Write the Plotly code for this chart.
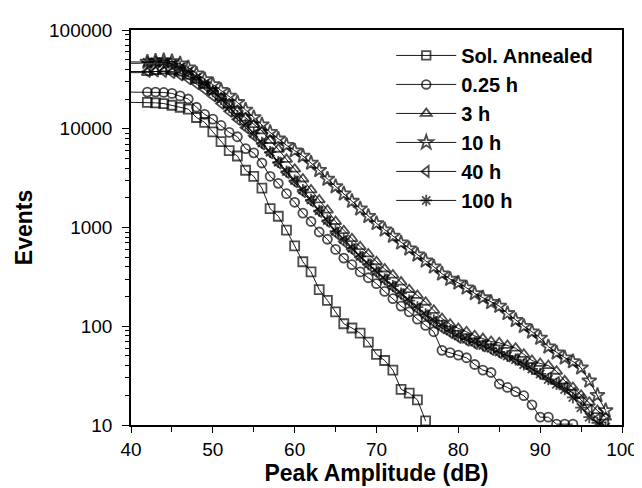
import plotly.graph_objects as go

# Peak amplitude (dB)
amp_sa = list(range(40, 77))
amp_025 = list(range(40, 95))
amp_long = list(range(40, 99))

sol_annealed = [18500, 18500, 18500, 18300, 18000, 17300, 16500, 15800, 13000, 11600, 9300, 7400,
                6000, 5300, 3800, 3300, 2500, 1550, 1300, 940, 650, 450, 355, 235, 183, 140,
                106, 96, 85, 69, 52, 45, 36, 23, 21, 18, 11]

h025 = [23500, 23500, 23500, 23500, 23300, 22800, 21500, 20000, 16500, 14000, 12500, 10800,
        9200, 8300, 6300, 5700, 4500, 3300, 2800, 2200, 1800, 1400, 1150, 900, 760, 600,
        490, 420, 355, 310, 270, 225, 190, 160, 140, 118, 102, 88, 57, 54, 51, 48, 41, 36,
        34, 26, 24, 21.7, 19.8, 16, 12, 12, 10.2, 10.2, 10.2]

h3 = [37000, 37000, 37000, 38000, 38500, 38000, 36500, 34000, 31000, 27500, 24000, 20500,
      17500, 15000, 12800, 11000, 9500, 7600, 6200, 4900, 3900, 3100, 2400, 1900, 1500,
      1150, 930, 770, 640, 540, 450, 380, 330, 280, 235, 205, 175, 145, 120, 105, 95, 88,
      80, 75, 70, 68, 64, 60, 52, 45, 42, 40, 35, 28, 24, 20, 17, 14, 12]

h10 = [47500, 47500, 47500, 48500, 49000, 48000, 45500, 41500, 36000, 31500, 28000, 24500,
       21500, 18500, 15500, 13000, 11000, 9200, 7900, 6800, 6000, 5300, 4500, 3800, 3100,
       2600, 2200, 1850, 1550, 1300, 1100, 950, 820, 700, 610, 530, 460, 400, 340, 300,
       275, 245, 215, 195, 175, 160, 135, 115, 100, 88, 76, 62, 54, 48, 44, 38, 28, 20, 14]

h40 = [38000, 38000, 38000, 38500, 38000, 37000, 35000, 32000, 28500, 25000, 21500, 18000,
       15000, 12500, 10300, 8500, 7000, 5700, 4500, 3600, 2900, 2300, 1850, 1450, 1150,
       880, 720, 600, 500, 420, 350, 295, 250, 210, 178, 150, 128, 110, 96, 86, 77, 72,
       67, 63, 58, 54, 50, 46, 42, 37, 33, 30, 27, 24, 21, 18, 14, 11.5, 10.5]

h100 = [46000, 46000, 47000, 47500, 47000, 45500, 42000, 38000, 33000, 28500, 24000, 20000,
        16500, 13500, 11000, 9000, 7200, 5800, 4600, 3700, 3000, 2400, 1900, 1480, 1180,
        920, 760, 620, 510, 425, 360, 300, 255, 215, 182, 156, 132, 115, 101, 90, 80, 74,
        69, 64, 60, 55, 50, 46, 41, 37, 33, 29, 26, 23, 19, 15, 12, 10.5, 9.5]

series = [
    ("Sol. Annealed", amp_sa, sol_annealed, "square-open", 9),
    ("0.25 h", amp_025, h025, "circle-open", 9),
    ("3 h", amp_long, h3, "triangle-up-open", 10),
    ("10 h", amp_long, h10, "star-open", 11),
    ("40 h", amp_long, h40, "triangle-left-open", 10),
    ("100 h", amp_long, h100, "asterisk-open", 10),
]

fig = go.Figure()
for name, xs, ys, sym, msize in series:
    sizes = [0 if x < 42 else msize for x in xs]
    fig.add_trace(go.Scatter(
        x=xs, y=ys, name=name, mode="lines+markers",
        line=dict(color="black", width=0.9),
        marker=dict(symbol=sym, size=sizes, color="black", line=dict(color="black", width=1.8)),
    ))

font = "Liberation Sans, Arial, sans-serif"
fig.update_layout(
    width=642, height=488,
    margin=dict(l=123, r=23, t=21, b=71),
    paper_bgcolor="white", plot_bgcolor="white",
    font=dict(family=font, color="black"),
    showlegend=True,
    legend=dict(x=0.53, y=0.985, xanchor="left", yanchor="top",
                font=dict(family=font, size=20, color="black", weight="bold"),
                itemwidth=60, bgcolor="rgba(0,0,0,0)", tracegroupgap=0),
    xaxis=dict(range=[40, 100], tickvals=[40, 50, 60, 70, 80, 90, 100],
               ticks="outside", ticklen=6, tickwidth=1, tickcolor="black",
               minor=dict(tickvals=[45, 55, 65, 75, 85, 95], ticks="outside", ticklen=5, tickcolor="black"),
               showline=True, linecolor="black", linewidth=1.5, mirror=True,
               showgrid=False, zeroline=False,
               tickfont=dict(size=19, family=font),
               title=dict(text="Peak Amplitude (dB)", font=dict(size=23, family=font, weight="bold"), standoff=3)),
    yaxis=dict(type="log", range=[1, 5],
               tickvals=[10, 100, 1000, 10000, 100000],
               ticktext=["10", "100", "1000", "10000", "100000"],
               ticks="outside", ticklen=7, tickwidth=1, tickcolor="black",
               ticklabelstandoff=6,
               minor=dict(ticks="outside", ticklen=4, tickcolor="black", dtick="D1"),
               showline=True, linecolor="black", linewidth=1.5, mirror=True,
               showgrid=False, zeroline=False,
               tickfont=dict(size=19, family=font),
               title=dict(text="Events", font=dict(size=23, family=font, weight="bold"), standoff=10)),
)

fig.write_html("out.html")
